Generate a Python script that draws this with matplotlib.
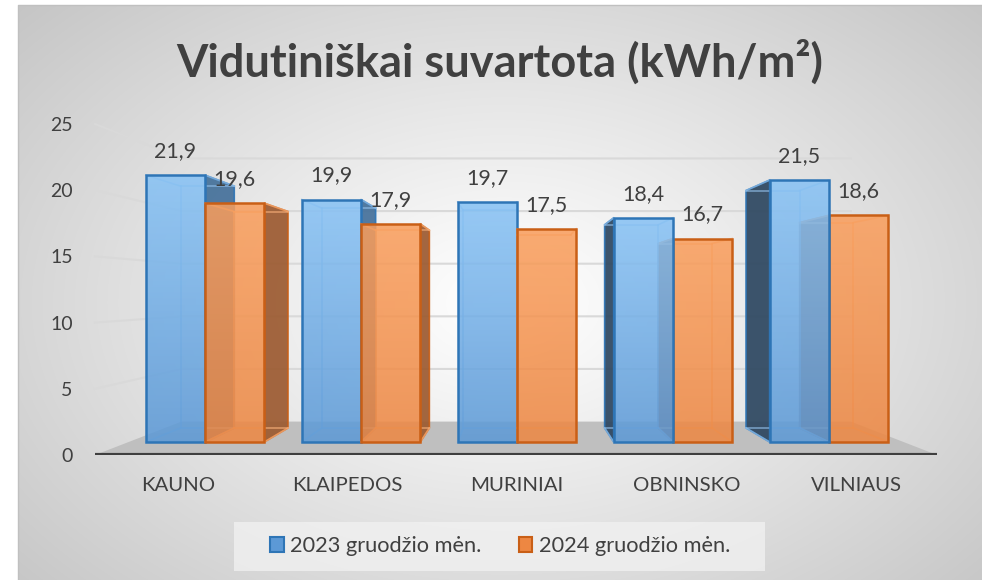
import numpy as np
import matplotlib
matplotlib.use("Agg")
import matplotlib.pyplot as plt
from matplotlib.patches import Polygon, Patch, Rectangle

plt.rcParams['font.family'] = ['Lato', 'DejaVu Sans']

categories = ["KAUNO", "KLAIPEDOS", "MURINIAI", "OBNINSKO", "VILNIAUS"]
series_names = ["2023 gruodžio mėn.", "2024 gruodžio mėn."]
values_2023 = [21.9, 19.9, 19.7, 18.4, 21.5]
values_2024 = [19.6, 17.9, 17.5, 16.7, 18.6]
y_ticks = [0, 5, 10, 15, 20, 25]
title = "Vidutiniškai suvartota (kWh/m²)"

W, H = 982, 580
fig = plt.figure(figsize=(W / 100, H / 100), dpi=100)

# ---- background radial gradient ----
bg = fig.add_axes([0, 0, 1, 1])
bg.set_xlim(0, W); bg.set_ylim(H, 0); bg.axis('off')
yy, xx = np.mgrid[0:H, 0:W]
r = np.sqrt(((xx - 495) / 500.0) ** 2 + ((yy - 300) / 330.0) ** 2)
c = 255 - 58 * np.clip(r / 1.35, 0, 1) ** 1.1
img = np.dstack([c, c, c]) / 255.0
bg.imshow(img, extent=[18, W, H, 5], aspect='auto', zorder=0)
bg.plot([18, 18, W], [H, 5, 5], color='#c0c0c0', lw=1, zorder=1)
# legend box
bg.add_patch(Rectangle((234, 522), 531, 49, facecolor='#f2f2f2', edgecolor='none', alpha=0.75, zorder=2))

# ---- main axes (front plane) ----
x_left_px, x_right_px, y0_px, y25_px = 95, 937, 455, 124
ax = fig.add_axes([x_left_px / W, 1 - y0_px / H, (x_right_px - x_left_px) / W, (y0_px - y25_px) / H])
ax.patch.set_alpha(0)
cat_px0, cat_step = 178.0, 169.5
xmin = (x_left_px - cat_px0) / cat_step
xmax = (x_right_px - cat_px0) / cat_step
ax.set_xlim(xmin, xmax)
ax.set_ylim(0, 25)
for s in ax.spines.values():
    s.set_visible(False)

XV, YV = 2.0, (y0_px - 292) / ((y0_px - y25_px) / 25.0)
SF, SB, SW = 0.920, 0.834, 0.795


def proj(s, x, y):
    return (XV + s * (x - XV), YV + s * (y - YV))


# walls / gridlines
for t in y_ticks[1:]:
    p0 = (xmin, t)
    p1 = proj(SW, xmin, t)
    p2 = proj(SW, xmax, t)
    ax.plot([p0[0], p1[0], p2[0]], [p0[1], p1[1], p2[1]], color='#d9d9d9', lw=1.5, zorder=1, clip_on=False)

# floor
floor = Polygon([(xmin, 0), (xmax, 0), proj(SW, xmax, 0), proj(SW, xmin, 0)],
                closed=True, facecolor='#bfbfbf', edgecolor='none', zorder=2)
ax.add_patch(floor)
ax.plot([xmin, xmax], [0, 0], color='#3f3f3f', lw=3, zorder=3, solid_capstyle='round')

bw = 0.38
styles = [
    dict(top=(0.53, 0.76, 0.96), bot=(0.36, 0.60, 0.84), edge='#2e75b6', side_r='#44709a',
         side_l='#2c4660', inner='#8fbde8'),
    dict(top=(0.98, 0.62, 0.36), bot=(0.93, 0.53, 0.26), edge='#c95f16', side_r='#9c5a30',
         side_l='#9c5a30', inner='#f6ad78'),
]
series = [values_2023, values_2024]

grad_n = 64
for i, cat in enumerate(categories):
    xc = float(i)
    order = [0, 1] if xc <= XV else [1, 0]
    for k in order:
        v = series[k][i]
        st = styles[k]
        x0 = xc - bw if k == 0 else xc
        x1 = x0 + bw
        z = 5 + (0 if k == order[0] else 3)
        # side face
        if x1 < XV - 1e-6:
            side = [proj(SF, x1, 0), proj(SF, x1, v), proj(SB, x1, v), proj(SB, x1, 0)]
            ax.add_patch(Polygon(side, closed=True, facecolor=st['side_r'], edgecolor=st['edge'],
                                 lw=1.2, alpha=0.92, zorder=z))
        elif x0 > XV + 1e-6:
            side = [proj(SF, x0, 0), proj(SF, x0, v), proj(SB, x0, v), proj(SB, x0, 0)]
            ax.add_patch(Polygon(side, closed=True, facecolor=st['side_l'], edgecolor=st['edge'],
                                 lw=1.2, alpha=0.92, zorder=z))
        # inner (back) edges seen through transparency
        b0 = proj(SB, x0, 0); b1 = proj(SB, x1, 0); b2 = proj(SB, x1, v); b3 = proj(SB, x0, v)
        f0 = proj(SF, x0, 0); f1 = proj(SF, x1, 0); f2 = proj(SF, x1, v); f3 = proj(SF, x0, v)
        vis = (b0, b3) if x0 <= XV else (b1, b2)
        for (pa, pb) in [(b0, b1), vis, (f0, b0), (f1, b1), (b3, b2), (f3, b3), (f2, b2)]:
            ax.plot([pa[0], pb[0]], [pa[1], pb[1]], color=st['inner'], lw=1.2, alpha=0.7, zorder=z + 1)
        # front face via bar, with vertical gradient fill
        fl, fb = proj(SF, x0, 0)
        bars = ax.bar(fl, SF * v, width=SF * bw, bottom=fb, align='edge', facecolor='none',
                      edgecolor=st['edge'], linewidth=1.8, zorder=z + 2)
        patch = bars[0]
        tvals = np.linspace(1, 0, grad_n)[:, None]
        top = np.array(st['top']); bot = np.array(st['bot'])
        grad = tvals[..., None] * top + (1 - tvals[..., None]) * bot
        grad = np.concatenate([grad, np.full((grad_n, 1, 1), 0.86)], axis=2)
        im = ax.imshow(grad, extent=[fl, fl + SF * bw, fb, fb + SF * v], aspect='auto',
                       zorder=z + 1.5, interpolation='bilinear')
        im.set_clip_path(patch)
        # label
        tx, ty = proj(SF, (x0 + x1) / 2, v)
        ax.annotate(f"{v:.1f}".replace('.', ','), (tx, ty), xytext=(0, 13), textcoords='offset points',
                    ha='center', va='baseline', fontsize=15.5, color='#404040', zorder=20,
                    annotation_clip=False)

ax.set_xlim(xmin, xmax)
ax.set_ylim(0, 25)
ax.set_yticks(y_ticks)
ax.set_yticklabels([str(t) for t in y_ticks], fontsize=14, color='#404040')
ax.set_xticks(range(len(categories)))
ax.set_xticklabels(categories, fontsize=14.7, color='#404040')
ax.tick_params(axis='y', length=0, pad=16)
ax.tick_params(axis='x', length=0, pad=15.5)

fig.text(500 / W, 1 - 62 / H, title, ha='center', va='center', fontsize=32.5, fontweight='bold', color='#404040')

handles = [Patch(facecolor=styles[k]['bot'], edgecolor=styles[k]['edge'], linewidth=1.5) for k in range(2)]
leg = fig.legend(handles, series_names, loc='center', bbox_to_anchor=(500 / W, 1 - 546 / H), ncol=2,
                 fontsize=15.7, frameon=False,
                 handlelength=0.64, handleheight=0.64, handletextpad=0.3,
                 columnspacing=1.7, labelcolor='#404040')

fig.savefig("out.png", dpi=100)
